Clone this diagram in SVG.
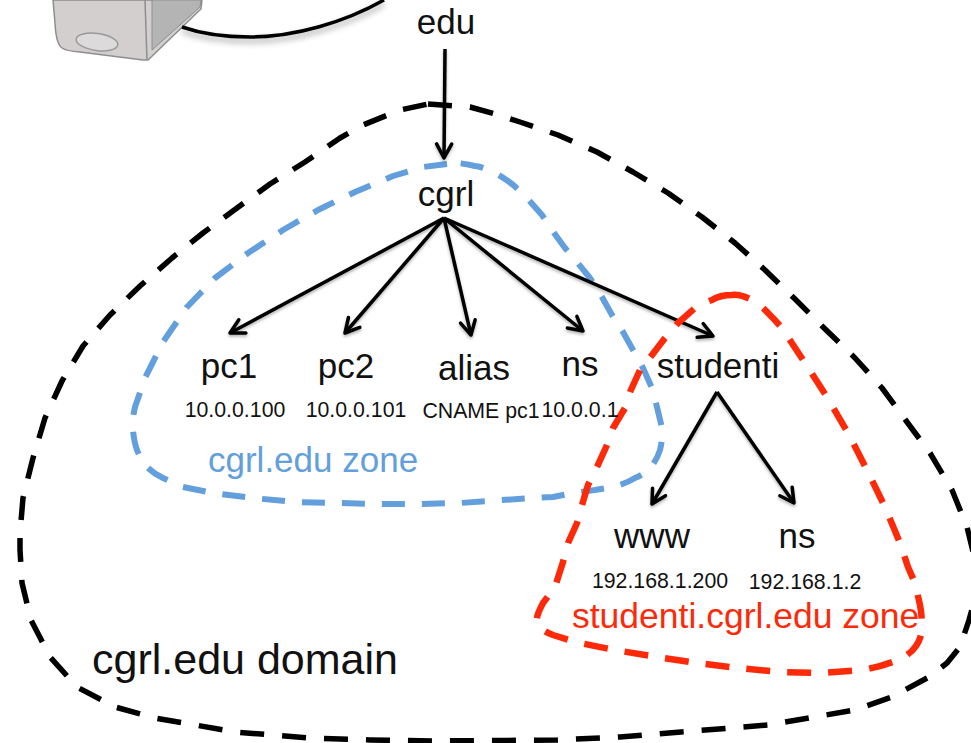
<svg xmlns="http://www.w3.org/2000/svg" width="971" height="743" viewBox="0 0 971 743">
<style>
text{font-family:"Liberation Sans",Arial,sans-serif;fill:#111}
.n{font-size:35px;text-anchor:middle}
.s{font-size:21.3px;text-anchor:middle}
.z{fill:none;stroke-linejoin:round}
.e{fill:none;stroke:#000;stroke-width:3.500}
</style>
<defs>
<marker id="a" viewBox="0 0 20 20" refX="17" refY="10" markerWidth="20" markerHeight="20" markerUnits="userSpaceOnUse" orient="auto"><path d="M3 2.500L17 10L3 17.500" fill="none" stroke="#000" stroke-width="3.500" stroke-linecap="round" stroke-linejoin="round"/></marker>
<filter id="sh" x="-10%" y="-10%" width="120%" height="120%"><feDropShadow dx="0" dy="2" stdDeviation="1.500" flood-color="#000" flood-opacity=".3"/></filter>
<filter id="sh2" x="-10%" y="-30%" width="120%" height="170%"><feDropShadow dx="0" dy="4" stdDeviation="3" flood-color="#000" flood-opacity=".35"/></filter>
</defs>
<g id="server">
<path d="M53 0L55 23Q56 44 62 48Q66 51 80 52L143 60H148L201 9L202 0Z" fill="#d3cfcf" stroke="#8e8e8e" stroke-width="1.500"/>
<path d="M152 0V50L200 7L201 0Z" fill="#b4b4b4" stroke="#8e8e8e" stroke-width="1"/>
<path d="M145 0L147 60" fill="none" stroke="#8e8e8e" stroke-width="1.500"/>
<ellipse cx="97" cy="42" rx="21" ry="8.500" transform="rotate(8 97 42)" fill="#dcdada" stroke="#9a9a9a" stroke-width="1.500"/>
</g>
<g id="cloud">
<path d="M182 27C205 35 225 37 250 37C295 37 345 22 384 0" class="e" filter="url(#sh2)"/>
</g>
<g id="domain-zone">
<path class="z" stroke="#000" stroke-width="5.500" stroke-dasharray="24 18" d="M428 104L470 107L495 114L520 122L558 135L597 152L633 172L668 193L702 217L735 243L765 270L795 299L823 327L855 358L882 388L907 422L930 453L952 490L967 527L975 560L976 595L969 620L960 647L947 663L929 677L892 697L855 710L768 725L681 732L620 737L557 740L433 741L370 740L310 738L235 732L155 718L115 707L77 687L50 657L31 620L22 583L20 550L20 533L23 498L33 458L45 418L62 381L83 346L110 315L140 286L172 258L203 233L237 208L270 184L305 162L340 138L363 125L400 110L428 104"/>
<text x="92" y="674" style="font-size:43px">cgrl.edu domain</text>
</g>
<g id="cgrl-zone">
<path class="z" stroke="#629fdc" stroke-width="6" stroke-dasharray="23 17" d="M447 164L423 167L393 176L355 192L318 210L283 230L248 253L215 278L187 307L163 342L145 378L135 407Q132 420 133 430Q134 442 137 450Q141 460 147 467Q154 474 163 478L183 487L213 493L253 498L295 502L337 503L377 504L418 504L460 503L532 498L553 497L573 493L595 490L613 487Q625 484 635 478Q645 474 650 468Q657 460 660 450Q663 438 662 428L657 407L652 388L643 368L633 350L623 332L612 315L602 297L590 278L577 262L565 248L552 230L542 215L527 198Q510 180 493 172Q480 166 475 166Q462 163 455 163Z"/>
<text x="208" y="472" style="font-size:35px;fill:#629fdc">cgrl.edu zone</text>
</g>
<g id="connectors" filter="url(#sh)">
<path d="M445 49L444 158" class="e" marker-end="url(#a)"/>
<path d="M444 218L230 333" class="e" marker-end="url(#a)"/>
<path d="M444 218L345 333" class="e" marker-end="url(#a)"/>
<path d="M444 218L471 335" class="e" marker-end="url(#a)"/>
<path d="M444 218L583 331" class="e" marker-end="url(#a)"/>
<path d="M444 218L713 336" class="e" marker-end="url(#a)"/>
<path d="M717 392L652 504" class="e" marker-end="url(#a)"/>
<path d="M717 392L794 503" class="e" marker-end="url(#a)"/>
</g>
<g id="studenti-zone">
<path class="z" stroke="#fd2a0a" stroke-width="6.500" stroke-dasharray="24 17" d="M732 295Q720 295 712 300Q703 303 695 308L678 323L665 338L652 355L640 370L630 392L625 408L613 428L607 445L597 467L588 485L582 505L577 523L568 543L563 562L555 587L543 603Q535 618 537 623Q540 630 553 635L575 642L615 650L657 657L697 663L738 668L780 672L820 673L862 670Q885 666 902 658Q917 650 921 635Q923 620 920 605L915 583L908 567L900 543L885 507L867 470L848 433L827 397L805 363L782 328Q775 320 768 313Q760 304 752 300Q740 294 732 295Z"/>
<text x="572" y="628" style="font-size:35.500px;fill:#fd2a0a">studenti.cgrl.edu zone</text>
</g>
<g id="edu"><text class="n" x="446" y="34">edu</text></g>
<g id="cgrl"><text class="n" x="446" y="206">cgrl</text></g>
<g id="pc1"><text class="n" x="229" y="378">pc1</text><text class="s" x="235" y="417">10.0.0.100</text></g>
<g id="pc2"><text class="n" x="346" y="378">pc2</text><text class="s" x="356" y="417">10.0.0.101</text></g>
<g id="alias"><text class="n" x="474" y="380">alias</text><text class="s" x="481" y="418">CNAME pc1</text></g>
<g id="ns1"><text class="n" x="580" y="376">ns</text><text class="s" x="580" y="417">10.0.0.1</text></g>
<g id="studenti"><text class="n" x="718" y="378">studenti</text></g>
<g id="www"><text class="n" x="652" y="548">www</text><text class="s" x="660" y="588">192.168.1.200</text></g>
<g id="ns2"><text class="n" x="797" y="548">ns</text><text class="s" x="805" y="589">192.168.1.2</text></g>
</svg>
